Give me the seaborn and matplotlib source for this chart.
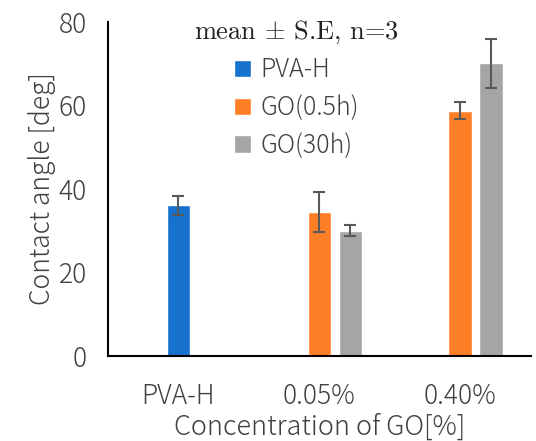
import numpy as np
import pandas as pd
import matplotlib
matplotlib.use("Agg")
import matplotlib.pyplot as plt
import seaborn as sns

# data (mean ± S.E, n=3)
categories = ["PVA-H", "0.05%", "0.40%"]
series = ["PVA-H", "GO(0.5h)", "GO(30h)"]
bar_category = ["PVA-H", "0.05%", "0.05%", "0.40%", "0.40%"]
bar_series = ["PVA-H", "GO(0.5h)", "GO(30h)", "GO(0.5h)", "GO(30h)"]
mean_angle = [36.0, 34.4, 30.0, 58.7, 70.0]
se_angle = [2.2, 4.8, 1.3, 2.1, 5.9]
colors = ["#1672CC", "#FF7F27", "#A5A5A5"]

# Excel-like slot layout: blue/orange centred on category, gray to the right
slot_offset = {"PVA-H": 0.0, "GO(0.5h)": 0.0, "GO(30h)": 0.22}

df = pd.DataFrame({
    "category": bar_category,
    "series": bar_series,
    "angle": mean_angle,
    "se": se_angle,
})
df["pos"] = df["category"].map(categories.index) + df["series"].map(slot_offset)

sns.set_style("white")
plt.rcParams["font.family"] = ["Noto Sans CJK JP", "DejaVu Sans"]
plt.rcParams["font.weight"] = "light"
plt.rcParams["axes.labelweight"] = "light"
plt.rcParams["mathtext.fontset"] = "cm"
text_color = "#404040"

fig = plt.figure(figsize=(5.36, 4.41), dpi=100)
ax = fig.add_axes([0.2015, 0.193, 0.789, 0.758])

sns.barplot(data=df, x="pos", y="angle", hue="series", hue_order=series,
            palette=colors, native_scale=True, dodge=False, width=0.77,
            errorbar=None, saturation=1, ax=ax)
ax.errorbar(df["pos"], df["angle"], yerr=df["se"], fmt="none",
            ecolor="#595959", elinewidth=1.5, capsize=4.3, capthick=1.5)

ax.set_xlim(-0.5, 2.5)
ax.set_ylim(0, 80)
ax.set_yticks(np.arange(0, 81, 20))
ax.set_xticks(range(len(categories)))
ax.set_xticklabels(categories)
ax.tick_params(axis="both", length=0, labelsize=19, colors=text_color)
ax.tick_params(axis="x", pad=19)
ax.tick_params(axis="y", pad=15)
ax.set_xlabel("Concentration of GO[%]", fontsize=19.5, color=text_color,
              fontweight="light", labelpad=2)
ax.set_ylabel("Contact angle [deg]", fontsize=19, color=text_color,
              fontweight="light", labelpad=2)

sns.despine(ax=ax)
for side in ["left", "bottom"]:
    ax.spines[side].set_color("black")
    ax.spines[side].set_linewidth(1.5)

leg = ax.legend(title="mean $\\pm$ S.E, n=3",
                loc="upper center", bbox_to_anchor=(0.445, 1.01),
                frameon=False, fontsize=18, handlelength=0.7,
                handleheight=0.7, handletextpad=0.35, labelspacing=0.45,
                borderpad=0, borderaxespad=0)
leg.get_title().set_fontsize(19)
leg.get_title().set_family(["cmr10", "DejaVu Serif"])
leg.get_title().set_color("#202020")
for t in leg.get_texts():
    t.set_color(text_color)

fig.savefig("out.png", dpi=100)
